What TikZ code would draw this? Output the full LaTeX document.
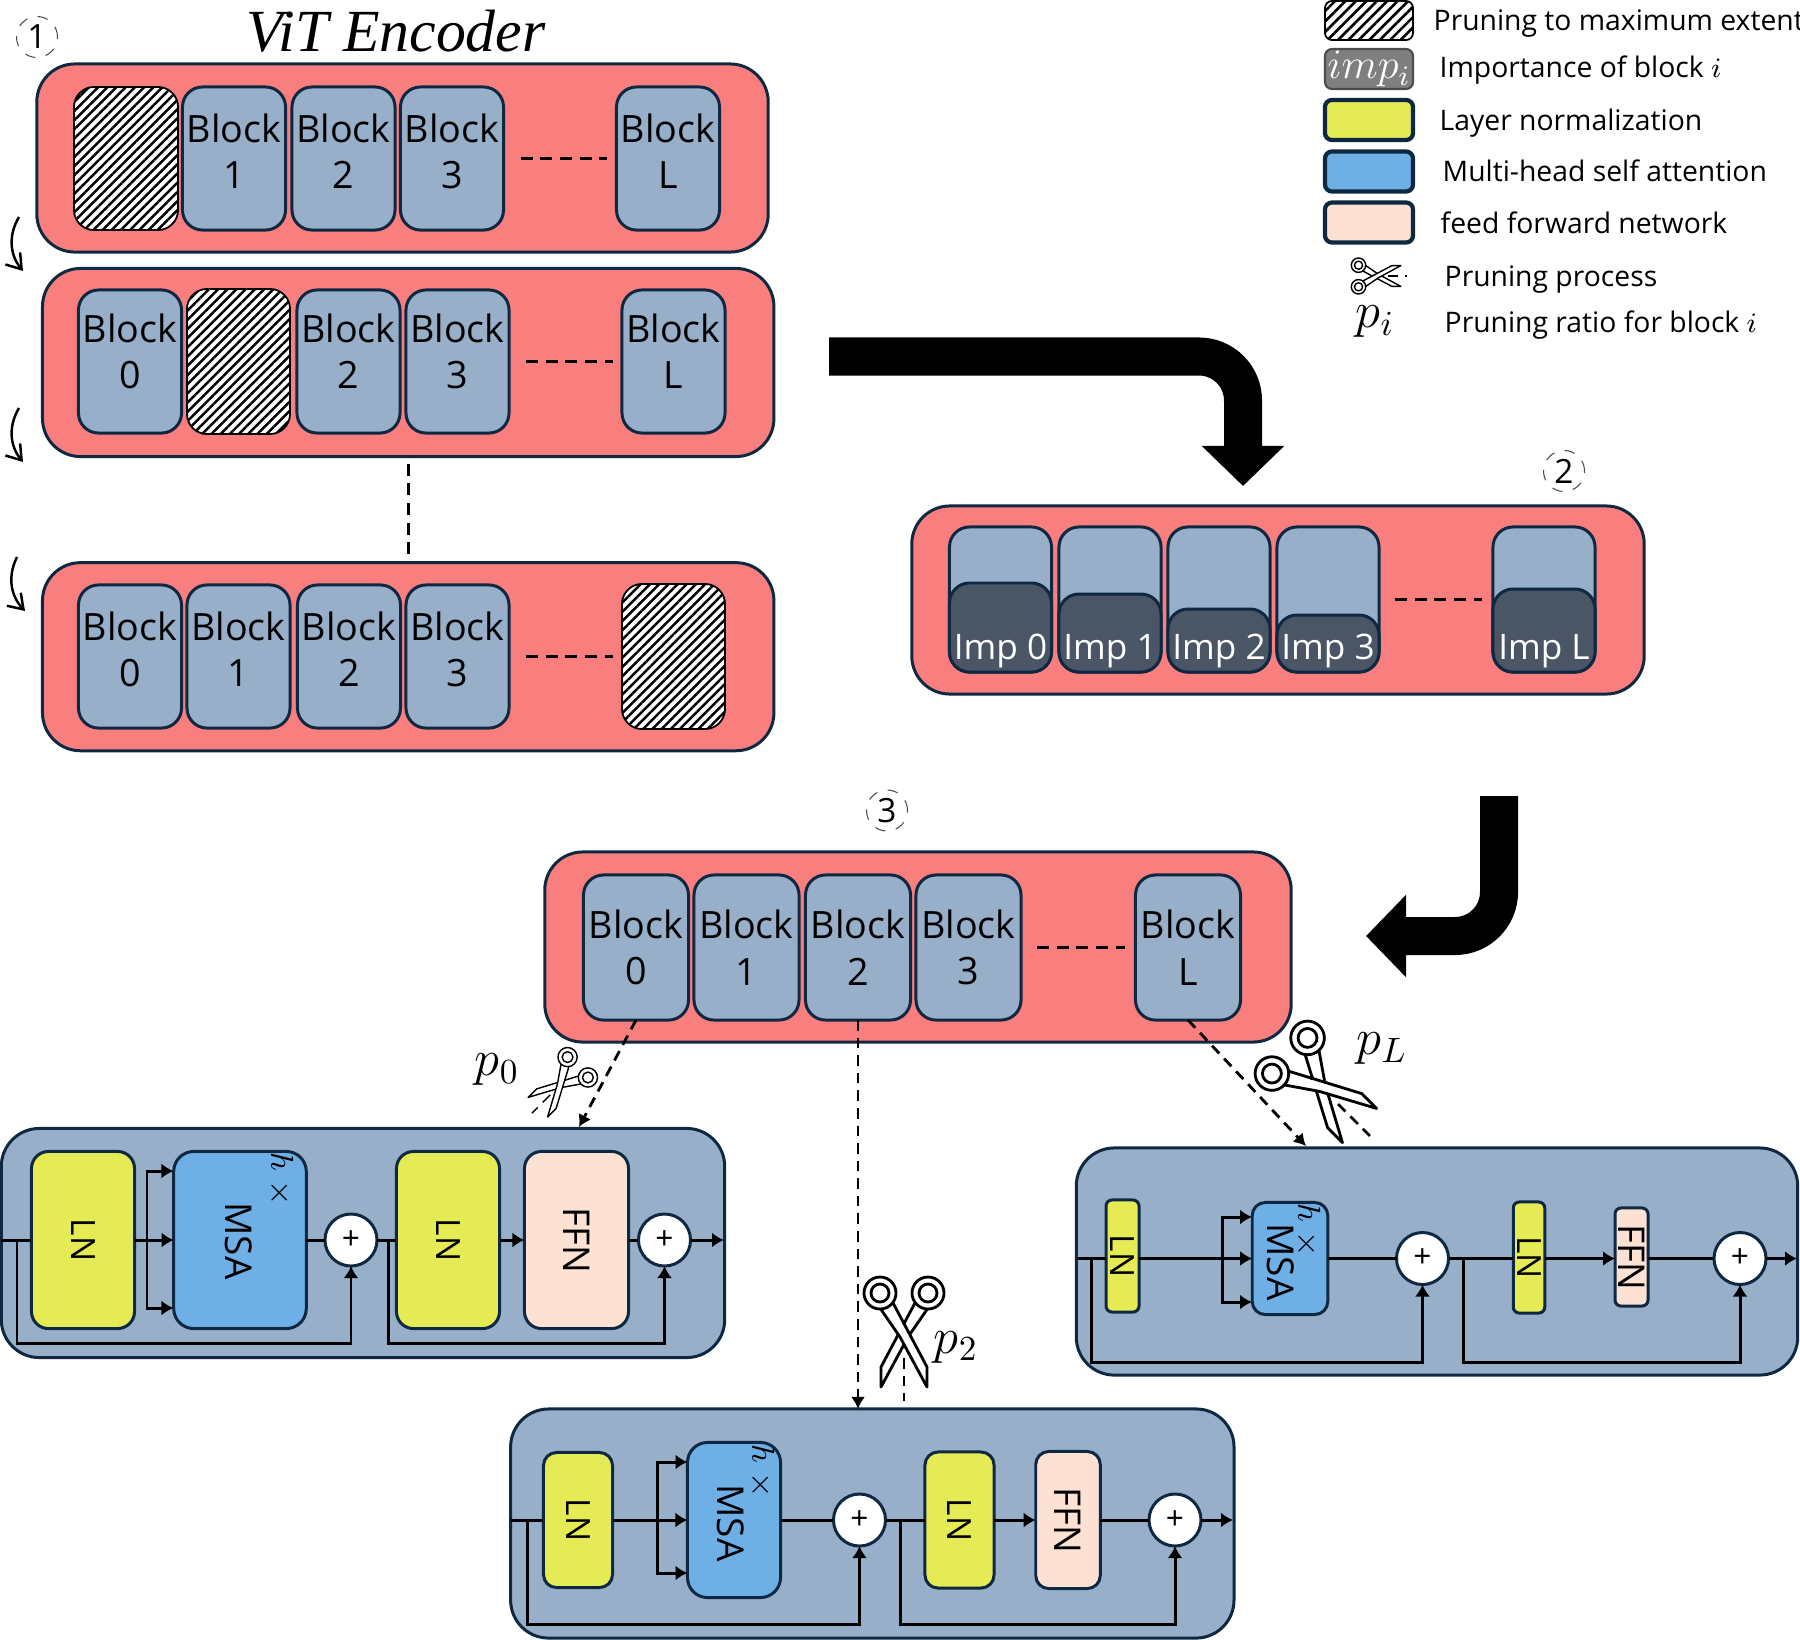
\documentclass[tikz,border=0pt]{standalone}
\usepackage{fontspec}
\setmainfont{Open Sans}
\newfontfamily\titlefont{Liberation Serif}
\usetikzlibrary{
  arrows.meta, patterns.meta
}
\definecolor{panelred}{HTML}{F97F7F}
\definecolor{blocksteel}{HTML}{97AFC9}
\definecolor{linenavy}{HTML}{0E2841}
\definecolor{lnyellow}{HTML}{E5EB54}
\definecolor{msablue}{HTML}{6EAFE6}
\definecolor{ffnpeach}{HTML}{FDE2D4}
\definecolor{impdark}{HTML}{4A5565}
\definecolor{impgray}{HTML}{7F7F7F}
\tikzset{
  boxbase/.style={draw=linenavy, line width=.85pt, inner sep=0pt, outer sep=0pt},
  panelbox/.style={boxbase, rounded corners=.38cm},
  redpanel/.style={panelbox, fill=panelred, minimum width=7.31cm, minimum height=1.88cm},
  detailpanel/.style={panelbox, fill=blocksteel},
  blockbox/.style={boxbase, rounded corners=.2cm, fill=blocksteel, align=center,
    minimum width=1.03cm, minimum height=1.43cm, font=\fontsize{10.7}{13.2}\selectfont},
  hatchbox/.style={draw=black, line width=.5pt, rounded corners=.2cm, inner sep=0pt, outer sep=0pt,
    preaction={fill=white}, pattern={Lines[angle=45,distance=1.85pt,line width=.7pt]}},
  impbar/.style={boxbase, rounded corners=.2cm, fill=impdark, minimum width=1.02cm, anchor=south},
  imptext/.style={text=white, font=\fontsize{10}{12}\selectfont, inner sep=0pt},
  lnbox/.style={boxbase, rounded corners=.17cm, fill=lnyellow, font=\fontsize{9.5}{12}\selectfont},
  msabox/.style={boxbase, rounded corners=.2cm, fill=msablue},
  ffnbox/.style={boxbase, rounded corners=.17cm, fill=ffnpeach, font=\fontsize{10.5}{12}\selectfont},
  plusnode/.style={boxbase, circle, fill=white, minimum size=.52cm, font=\small},
  msatext/.style={inner sep=0pt, font=\fontsize{10.5}{12}\selectfont},
  headstext/.style={inner sep=0pt, font=\fontsize{9}{12}\selectfont},
  stepmark/.style={draw=black!70, dashed, line width=.3pt, circle, minimum size=.41cm, inner sep=0pt,
    font=\fontsize{9.5}{12}\selectfont},
  dotsline/.style={line width=.85pt, dash pattern=on 3.4pt off 2.2pt},
  wire/.style={line width=.85pt},
  flow/.style={wire, -{Latex[length=1.2mm,width=1.5mm]}},
  prunearrow/.style={line width=.8pt, dash pattern=on 3pt off 2pt, -{Latex[length=1.2mm,width=1.4mm]}},
  turnarrow/.style={line width=.7pt, -{Straight Barb[length=1.4mm,width=1.9mm]}},
  bigarrow/.style={line width=.38cm, rounded corners=.44cm, -{Triangle[length=.4cm,width=.8cm]}},
  legendbox/.style={boxbase, line width=1.2pt, rounded corners=.07cm, minimum width=.88cm, minimum height=.4cm},
  legendtext/.style={anchor=west, inner sep=0pt, text height=1.8ex, text depth=.5ex, font=\fontsize{8.05}{10}\selectfont},
  ratiotext/.style={inner sep=0pt, font=\fontsize{14}{16}\selectfont},
  scissors/.pic={
    \foreach \side in {1,-1} {
      \begin{scope}[yscale=\side]
        \draw[fill=white, line join=round] (64,23) -- (44,23) -- (-22,-12) -- (-15,-24) -- (14,-4) -- cycle;
        \draw[fill=white] (-30,-24) circle (16);
        \draw (-30,-24) circle (9);
      \end{scope}
    }
    \fill (0,0) circle (2);
    \draw[dash pattern=on 3pt off 2pt] (35,0) -- (78,0);
  }
}
\begin{document}
\begin{tikzpicture}[x=.01cm, y=-.01cm]
  \useasboundingbox (0,0) rectangle (1800,1639);

  \node[stepmark] (stepone) at (37,37) {1};
  \node[inner sep=0pt, font=\titlefont\itshape\fontsize{17}{19}\selectfont] (vittitle) at (396,31) {ViT Encoder};

  \node[redpanel] (apanel) at (402.5,158) {};
  \node[hatchbox, minimum width=1.04cm, minimum height=1.43cm] (ablock0) at (126,158.5) {};
  \foreach \x/\lab in {234/1, 343.5/2, 452/3, 668/L}
    \node[blockbox] (ablock\lab) at (\x,158.5) {Block\\\lab\\[-9pt]\mbox{}};
  \draw[dotsline, shorten <=.17cm, shorten >=.09cm] (ablock3) -- (ablockL);

  \node[redpanel] (bpanel) at (408.2,362.5) {};
  \node[hatchbox, minimum width=1.03cm, minimum height=1.45cm] (bblock1) at (238.5,361.5) {};
  \foreach \x/\lab in {130/0, 348.5/2, 457.5/3, 673.5/L}
    \node[blockbox] (bblock\lab) at (\x,361.5) {Block\\\lab\\[-7.5pt]\mbox{}};
  \draw[dotsline, shorten <=.17cm, shorten >=.09cm] (bblock3) -- (bblockL);

  \node[redpanel] (cpanel) at (408.2,656.7) {};
  \node[hatchbox, minimum width=1.03cm, minimum height=1.45cm] (cblockL) at (673.5,656.5) {};
  \foreach \x/\lab in {130/0, 238.5/1, 349/2, 457.5/3}
    \node[blockbox] (cblock\lab) at (\x,656.5) {Block\\\lab\\[-9pt]\mbox{}};
  \draw[dotsline, shorten <=.17cm, shorten >=.09cm] (cblock3) -- (cblockL);

  \draw[dotsline, shorten <=.07cm, shorten >=.07cm] (bpanel.south) -- (cpanel.north);

  \coordinate (turnonestart) at (19,217);
  \coordinate (turnoneend) at (23,271);
  \coordinate (turntwostart) at (19,408);
  \coordinate (turntwoend) at (23,462);
  \coordinate (turnthreestart) at (17,557);
  \coordinate (turnthreeend) at (25,611);
  \draw[turnarrow] (turnonestart) to[bend right=35] (turnoneend);
  \draw[turnarrow] (turntwostart) to[bend right=35] (turntwoend);
  \draw[turnarrow] (turnthreestart) to[bend right=35] (turnthreeend);

  \coordinate (bendonestart) at (829,356.5);
  \coordinate (bendoneend) at (1243,486);
  \draw[bigarrow] (bendonestart) -| (bendoneend);

  \node[stepmark] (steptwo) at (1564,471) {2};
  \node[redpanel, minimum width=7.32cm] (imppanel) at (1278,600) {};
  \foreach \x/\h/\lab in {1000.5/.89/0, 1110/.78/1, 1219/.63/2, 1328/.57/3, 1544/.83/L} {
    \node[blockbox, minimum width=1.02cm, minimum height=1.45cm] (imp\lab) at (\x,599.5) {};
    \node[impbar, minimum height=\h cm] (impbar\lab) at (imp\lab.south) {};
    \node[imptext] (imptext\lab) at (\x,651) {Imp \lab};
  }
  \draw[dotsline, shorten <=.16cm, shorten >=.11cm] (imp3) -- (impL);

  \coordinate (bendtwostart) at (1499,796);
  \coordinate (bendtwoend) at (1366,936);
  \draw[bigarrow] (bendtwostart) |- (bendtwoend);

  \node[stepmark] (stepthree) at (887,810.5) {3};
  \node[redpanel, minimum width=7.46cm, minimum height=1.9cm] (dpanel) at (918,947) {};
  \foreach \x/\lab in {636/0, 746.5/1, 858/2, 968.5/3, 1188/L}
    \node[blockbox, minimum width=1.05cm, minimum height=1.45cm] (dblock\lab) at (\x,947.5) {Block\\\lab};
  \draw[dotsline, shorten <=.16cm, shorten >=.1cm] (dblock3) -- (dblockL);

  \node[detailpanel, minimum width=7.23cm, minimum height=2.29cm] (pzero) at (363,1243) {};
  \node[lnbox, minimum width=1.03cm, minimum height=1.77cm] (pzerolnA) at (83,1240) {\rotatebox{-90}{LN}};
  \node[msabox, minimum width=1.325cm, minimum height=1.77cm] (pzeromsa) at (240,1240) {};
  \node[msatext] (pzeromsatext) at (238.5,1241) {\rotatebox{-90}{MSA}};
  \node[headstext] (pzeroheads) at (281,1179) {\rotatebox{-90}{$h\;\times$}};
  \node[plusnode] (pzeroplusA) at (351,1240) {+};
  \node[lnbox, minimum width=1.03cm, minimum height=1.77cm] (pzerolnB) at (448,1240) {\rotatebox{-90}{LN}};
  \node[ffnbox, minimum width=1.04cm, minimum height=1.77cm] (pzeroffn) at (576.5,1240) {\rotatebox{-90}{FFN}};
  \node[plusnode] (pzeroplusB) at (664.5,1240) {+};
  \coordinate (pzeroin) at (1.5,1240);
  \coordinate (pzerotapA) at (17,1240);
  \coordinate (pzerosplit) at (147,1240);
  \coordinate (pzerotop) at (173.5,1171);
  \coordinate (pzerobottom) at (173.5,1308);
  \coordinate (pzerotapB) at (388,1240);
  \coordinate (pzerofloor) at (17,1343);
  \coordinate (pzeroout) at (724,1240);

  \node[detailpanel, minimum width=7.23cm, minimum height=2.29cm] (ptwo) at (872.3,1523.5) {};
  \node[lnbox, rounded corners=.13cm, minimum width=.69cm, minimum height=1.35cm] (ptwolnA) at (578,1520) {\rotatebox{-90}{LN}};
  \node[msabox, minimum width=.93cm, minimum height=1.55cm] (ptwomsa) at (734,1520) {};
  \node[msatext] (ptwomsatext) at (731,1523) {\rotatebox{-90}{MSA}};
  \node[headstext] (ptwoheads) at (762,1471) {\rotatebox{-90}{$h\;\times$}};
  \node[plusnode] (ptwoplusA) at (859.5,1520) {+};
  \node[lnbox, rounded corners=.13cm, minimum width=.69cm, minimum height=1.36cm] (ptwolnB) at (959.5,1520) {\rotatebox{-90}{LN}};
  \node[ffnbox, rounded corners=.13cm, minimum width=.645cm, minimum height=1.37cm] (ptwoffn) at (1068,1520) {\rotatebox{-90}{FFN}};
  \node[plusnode] (ptwoplusB) at (1175,1520) {+};
  \coordinate (ptwoin) at (511,1520);
  \coordinate (ptwotapA) at (527.5,1520);
  \coordinate (ptwosplit) at (657.5,1520);
  \coordinate (ptwotop) at (687.5,1462);
  \coordinate (ptwobottom) at (687.5,1573);
  \coordinate (ptwotapB) at (900,1520);
  \coordinate (ptwofloor) at (527.5,1624.5);
  \coordinate (ptwoout) at (1233,1520);

  \node[detailpanel, minimum width=7.21cm, minimum height=2.27cm] (pl) at (1437,1261.5) {};
  \node[lnbox, rounded corners=.06cm, minimum width=.33cm, minimum height=1.12cm] (pllnA) at (1122.5,1256) {\rotatebox{-90}{LN}};
  \node[msabox, rounded corners=.13cm, minimum width=.755cm, minimum height=1.12cm] (plmsa) at (1290,1258.5) {};
  \node[msatext] (plmsatext) at (1281,1262) {\rotatebox{-90}{MSA}};
  \node[headstext] (plheads) at (1308,1230) {\rotatebox{-90}{$h\;\times$}};
  \node[plusnode] (plplusA) at (1422.5,1258.5) {+};
  \node[lnbox, rounded corners=.06cm, minimum width=.315cm, minimum height=1.11cm] (pllnB) at (1529,1257.5) {\rotatebox{-90}{LN}};
  \node[ffnbox, rounded corners=.06cm, minimum width=.33cm, minimum height=.98cm] (plffn) at (1631.5,1257) {\rotatebox{-90}{FFN}};
  \node[plusnode] (plplusB) at (1740,1258.5) {+};
  \coordinate (plin) at (1077,1258.5);
  \coordinate (pltapA) at (1091.5,1258.5);
  \coordinate (plsplit) at (1222,1258.5);
  \coordinate (pltop) at (1252,1217);
  \coordinate (plbottom) at (1252,1302);
  \coordinate (pltapB) at (1463,1258.5);
  \coordinate (plfloor) at (1091.5,1362.5);
  \coordinate (plout) at (1797,1258.5);

  \foreach \p in {pzero, ptwo, pl} {
    \draw[wire] (\p in) -- (\p lnA.west |- \p in);
    \draw[flow] (\p lnA.east |- \p in) -- (\p msa.west |- \p in);
    \draw[flow] (\p split) |- (\p top);
    \draw[flow] (\p split) |- (\p bottom);
    \draw[wire] (\p msa.east |- \p in) -- (\p plusA.west);
    \draw[wire] (\p plusA.east) -- (\p lnB.west |- \p in);
    \draw[flow] (\p lnB.east |- \p in) -- (\p ffn.west |- \p in);
    \draw[wire] (\p ffn.east |- \p in) -- (\p plusB.west);
    \draw[flow] (\p plusB.east) -- (\p out);
    \draw[flow] (\p tapA) -- (\p tapA |- \p floor) -| (\p plusA.south);
    \draw[flow] (\p tapB) -- (\p tapB |- \p floor) -| (\p plusB.south);
  }

  \coordinate (pzeroentry) at (579,1127);
  \coordinate (plentry) at (1306,1146);
  \draw[prunearrow] (dblock0.south) -- (pzeroentry);
  \draw[prunearrow] (dblock2.south) -- (ptwo.north -| dblock2.south);
  \draw[prunearrow] (dblockL.south) -- (plentry);

  \pic[scale=.6, rotate=225, line width=.4pt] at (565,1080) {scissors};
  \pic[rotate=-90, line width=.8pt] at (904,1323) {scissors};
  \pic[scale=1.05, rotate=-45, line width=.8pt] at (1312,1078) {scissors};
  \node[ratiotext] (ratiozero) at (497,1070) {$p_0$};
  \node[ratiotext] (ratiotwo) at (956,1347) {$p_2$};
  \node[ratiotext] (ratiol) at (1382,1049) {$p_L$};

  \node[hatchbox, pattern={Lines[angle=45,distance=2.1pt,line width=.75pt]}, minimum width=.88cm, minimum height=.39cm, rounded corners=.07cm] (legprune) at (1369,20.5) {};
  \node[legendbox, fill=impgray, draw=black!70, line width=.6pt, text=white, font=\fontsize{11.5}{13}\selectfont] (legimp) at (1369,69) {$imp_i$};
  \node[legendbox, fill=lnyellow] (legln) at (1369,120) {};
  \node[legendbox, fill=msablue] (legmsa) at (1369,171.5) {};
  \node[legendbox, fill=ffnpeach] (legffn) at (1369,222.5) {};
  \pic[scale=.45, line width=.4pt] at (1372,276) {scissors};
  \node[ratiotext] (legratio) at (1375,322) {$p_i$};
  \node[legendtext] (legprunetext) at (1433,18) {Pruning to maximum extent};
  \node[legendtext] (legimptext) at (1439,65) {Importance of block $i$};
  \node[legendtext] (leglntext) at (1439,118) {Layer normalization};
  \node[legendtext] (legmsatext) at (1442,169) {Multi-head self attention};
  \node[legendtext] (legffntext) at (1440,221) {feed forward network};
  \node[legendtext] (legcuttext) at (1444,274) {Pruning process};
  \node[legendtext] (legratiotext) at (1444,320) {Pruning ratio for block $i$};
\end{tikzpicture}
\end{document}
